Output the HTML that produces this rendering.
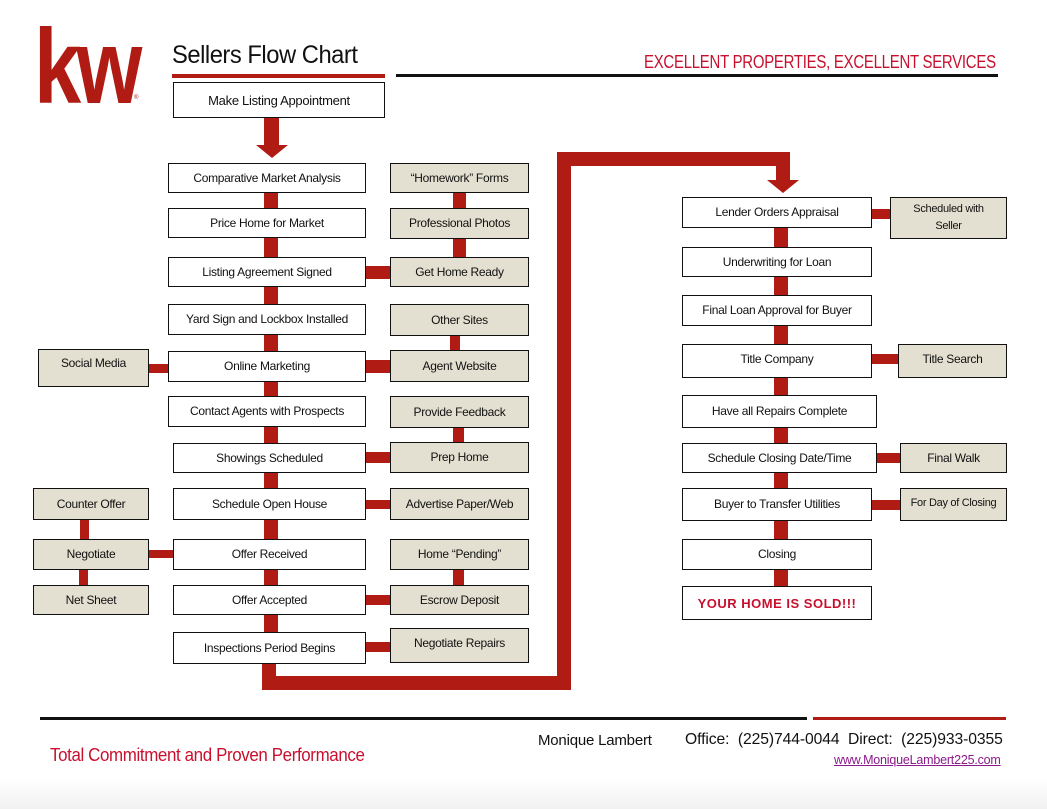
<!DOCTYPE html>
<html><head><meta charset="utf-8"><style>
*{margin:0;padding:0;box-sizing:border-box}
body{width:1047px;height:809px;position:relative;background:#fff;font-family:"Liberation Sans",sans-serif;overflow:hidden;color:#111}
.b{position:absolute;border:1.5px solid #111;background:#fff;display:flex;align-items:center;justify-content:center;text-align:center;font-size:12px;letter-spacing:-0.3px;line-height:17px}
.g{background:#e4e0d1}
.r{position:absolute;background:#b01c14}
.t{position:absolute;white-space:nowrap}
</style></head><body>
<div style="position:absolute;left:0;right:0;bottom:0;height:30px;background:linear-gradient(#fff,#f1f1f1)"></div>
<div class="t" style="left:34px;top:14px;font-size:106px;font-weight:bold;color:#b01c14;letter-spacing:-6px;line-height:106px;transform:scaleX(0.8);transform-origin:left">kw</div>
<div class="t" style="left:134px;top:95px;font-size:6px;color:#b01c14">®</div>
<div class="t" style="left:172px;top:40px;font-size:25px;line-height:30px;letter-spacing:-0.5px;transform:scaleX(0.95);transform-origin:left">Sellers Flow Chart</div>
<div class="r" style="left:172px;top:74px;width:213px;height:4px"></div>
<div style="position:absolute;left:396px;top:74px;width:602px;height:3px;background:#111"></div>
<div class="t" style="left:644px;top:52px;font-size:18px;color:#c8102e;letter-spacing:-0.3px;transform:scaleX(0.83);transform-origin:left">EXCELLENT PROPERTIES, EXCELLENT SERVICES</div>

<!-- connectors left -->
<div class="r" style="left:264px;top:117px;width:15px;height:30px"></div>
<div style="position:absolute;left:256px;top:145px;width:0;height:0;border-left:16px solid transparent;border-right:16px solid transparent;border-top:13px solid #b01c14"></div>
<div class="r" style="left:264px;top:190px;width:14px;height:445px"></div>
<div class="r" style="left:453px;top:190px;width:13px;height:70px"></div>
<div class="r" style="left:450px;top:334px;width:10px;height:18px"></div>
<div class="r" style="left:453px;top:425px;width:11px;height:20px"></div>
<div class="r" style="left:453px;top:567px;width:11px;height:20px"></div>
<div class="r" style="left:365px;top:266px;width:27px;height:13px"></div>
<div class="r" style="left:365px;top:360px;width:27px;height:13px"></div>
<div class="r" style="left:365px;top:452px;width:27px;height:11px"></div>
<div class="r" style="left:365px;top:500px;width:27px;height:9px"></div>
<div class="r" style="left:365px;top:595px;width:27px;height:10px"></div>
<div class="r" style="left:365px;top:642px;width:27px;height:10px"></div>
<div class="r" style="left:147px;top:364px;width:23px;height:9px"></div>
<div class="r" style="left:147px;top:550px;width:28px;height:8px"></div>
<div class="r" style="left:80px;top:517px;width:9px;height:24px"></div>
<div class="r" style="left:79px;top:567px;width:9px;height:20px"></div>
<!-- big path -->
<div class="r" style="left:262px;top:661px;width:14px;height:29px"></div>
<div class="r" style="left:262px;top:676px;width:309px;height:14px"></div>
<div class="r" style="left:557px;top:152px;width:14px;height:538px"></div>
<div class="r" style="left:557px;top:152px;width:233px;height:14px"></div>
<div class="r" style="left:776px;top:152px;width:14px;height:30px"></div>
<div style="position:absolute;left:767px;top:180px;width:0;height:0;border-left:16px solid transparent;border-right:16px solid transparent;border-top:13px solid #b01c14"></div>
<!-- right connectors -->
<div class="r" style="left:774px;top:225px;width:14px;height:365px"></div>
<div class="r" style="left:871px;top:209px;width:21px;height:10px"></div>
<div class="r" style="left:871px;top:354px;width:29px;height:10px"></div>
<div class="r" style="left:876px;top:453px;width:26px;height:10px"></div>
<div class="r" style="left:871px;top:500px;width:31px;height:10px"></div>

<!-- left boxes -->
<div class="b" style="left:173px;top:82px;width:212px;height:36px;font-size:13px">Make Listing Appointment</div>
<div class="b" style="left:168px;top:163px;width:198px;height:30px">Comparative Market Analysis</div>
<div class="b" style="left:168px;top:208px;width:198px;height:30px">Price Home for Market</div>
<div class="b" style="left:168px;top:257px;width:198px;height:30px">Listing Agreement Signed</div>
<div class="b" style="left:168px;top:304px;width:198px;height:31px">Yard Sign and Lockbox Installed</div>
<div class="b" style="left:168px;top:351px;width:198px;height:31px">Online Marketing</div>
<div class="b" style="left:168px;top:396px;width:198px;height:31px">Contact Agents with Prospects</div>
<div class="b" style="left:173px;top:443px;width:193px;height:30px">Showings Scheduled</div>
<div class="b" style="left:173px;top:488px;width:193px;height:32px">Schedule Open House</div>
<div class="b" style="left:173px;top:539px;width:193px;height:31px">Offer Received</div>
<div class="b" style="left:173px;top:585px;width:193px;height:30px">Offer Accepted</div>
<div class="b" style="left:173px;top:632px;width:193px;height:32px">Inspections Period Begins</div>

<div class="b g" style="left:390px;top:163px;width:139px;height:30px">“Homework” Forms</div>
<div class="b g" style="left:390px;top:208px;width:139px;height:31px">Professional Photos</div>
<div class="b g" style="left:390px;top:257px;width:139px;height:30px">Get Home Ready</div>
<div class="b g" style="left:390px;top:304px;width:139px;height:32px">Other Sites</div>
<div class="b g" style="left:390px;top:350px;width:139px;height:32px">Agent Website</div>
<div class="b g" style="left:390px;top:396px;width:139px;height:32px">Provide Feedback</div>
<div class="b g" style="left:390px;top:442px;width:139px;height:31px">Prep Home</div>
<div class="b g" style="left:390px;top:488px;width:139px;height:32px">Advertise Paper/Web</div>
<div class="b g" style="left:390px;top:539px;width:139px;height:31px">Home “Pending”</div>
<div class="b g" style="left:390px;top:585px;width:139px;height:30px">Escrow Deposit</div>
<div class="b g" style="left:390px;top:628px;width:139px;height:35px;align-items:flex-start;padding-top:6px">Negotiate Repairs</div>

<div class="b g" style="left:38px;top:349px;width:111px;height:38px;align-items:flex-start;padding-top:5px">Social Media</div>
<div class="b g" style="left:33px;top:488px;width:116px;height:32px">Counter Offer</div>
<div class="b g" style="left:33px;top:539px;width:116px;height:31px">Negotiate</div>
<div class="b g" style="left:33px;top:585px;width:116px;height:30px">Net Sheet</div>

<!-- right column -->
<div class="b" style="left:682px;top:197px;width:190px;height:31px">Lender Orders Appraisal</div>
<div class="b g" style="left:890px;top:197px;width:117px;height:42px;font-size:11px">Scheduled with<br>Seller</div>
<div class="b" style="left:682px;top:247px;width:190px;height:30px">Underwriting for Loan</div>
<div class="b" style="left:682px;top:295px;width:190px;height:31px">Final Loan Approval for Buyer</div>
<div class="b" style="left:682px;top:344px;width:190px;height:34px;align-items:flex-start;padding-top:6px">Title Company</div>
<div class="b g" style="left:898px;top:344px;width:109px;height:34px;align-items:flex-start;padding-top:6px">Title Search</div>
<div class="b" style="left:682px;top:395px;width:195px;height:33px">Have all Repairs Complete</div>
<div class="b" style="left:682px;top:443px;width:195px;height:30px">Schedule Closing Date/Time</div>
<div class="b g" style="left:900px;top:443px;width:107px;height:30px">Final Walk</div>
<div class="b" style="left:682px;top:488px;width:190px;height:33px">Buyer to Transfer Utilities</div>
<div class="b g" style="left:900px;top:488px;width:107px;height:33px;font-size:11px;align-items:flex-start;padding-top:6px">For Day of Closing</div>
<div class="b" style="left:682px;top:539px;width:190px;height:31px">Closing</div>
<div class="b" style="left:682px;top:586px;width:190px;height:34px;color:#c8102e;font-weight:bold;font-size:13px;letter-spacing:0.5px">YOUR HOME IS SOLD!!!</div>

<!-- footer -->
<div style="position:absolute;left:40px;top:717px;width:767px;height:3px;background:#111"></div>
<div class="r" style="left:813px;top:717px;width:193px;height:3px"></div>
<div class="t" style="left:50px;top:745px;font-size:18px;color:#c8102e;letter-spacing:-0.4px;transform:scaleX(0.94);transform-origin:left">Total Commitment and Proven Performance</div>
<div class="t" style="left:538px;top:732px;font-size:15px;letter-spacing:-0.2px">Monique Lambert</div>
<div class="t" style="left:685px;top:731px;font-size:16px;letter-spacing:-0.1px;transform:scaleX(0.98);transform-origin:left">Office:&nbsp; (225)744-0044&nbsp; Direct:&nbsp; (225)933-0355</div>
<div class="t" style="left:834px;top:753px;font-size:12.5px;color:#8b1a8b;text-decoration:underline;letter-spacing:-0.2px">www.MoniqueLambert225.com</div>
</body></html>
